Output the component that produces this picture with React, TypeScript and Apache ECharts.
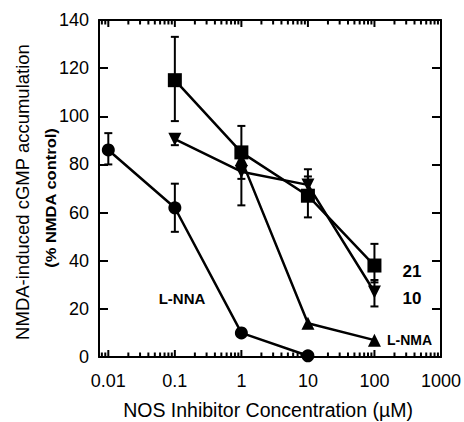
import React, { useEffect, useRef } from "react";
import * as echarts from "echarts";

// concentrations (µM)
const nnaX = [0.01, 0.1, 1, 10];
const nnaY = [86, 62, 10, 0.5];
const nnaErr: (number[] | null)[] = [[80, 93], [52, 72], null, null];

const c21X = [0.1, 1, 10, 100];
const c21Y = [115, 85, 67, 38];
const c21Err: (number[] | null)[] = [[98, 133], [74, 96], [58, 75], [31, 47]];

const c10X = [0.1, 1, 10, 100];
const c10Y = [90.5, 77, 71.5, 27];
const c10Err: (number[] | null)[] = [[88, 92], [63, 80], [68, 78], [21, 32]];

const nmaX = [1, 10, 100];
const nmaY = [82, 14, 7];

const xTickValues = [0.01, 0.1, 1, 10, 100, 1000];
const xTickLabels = ["0.01", "0.1", "1", "10", "100", "1000"];

const FONT = "Liberation Sans, Arial, Helvetica, sans-serif";
const L = Math.log10;
const X_MIN = -2.14;
const X_MAX = 3;

const majorVals = xTickValues.map((v) => L(v));
const minorVals: number[] = [];
for (let n = -3; n <= 2; n++) {
  for (let k = 2; k <= 9; k++) {
    const v = L(k * Math.pow(10, n));
    if (v > X_MIN && v < X_MAX) minorVals.push(v);
  }
}
const tickData = [
  ...majorVals.map((v) => [v, 1]),
  ...minorVals.map((v) => [v, 2]),
];

function pts(xs: number[], ys: number[]) {
  return xs.map((x, i) => [L(x), ys[i]]);
}
function errPts(xs: number[], errs: (number[] | null)[]) {
  const out: number[][] = [];
  xs.forEach((x, i) => {
    const e = errs[i];
    if (e) out.push([L(x), e[0], e[1]]);
  });
  return out;
}

const errData = [
  ...errPts(nnaX, nnaErr),
  ...errPts(c21X, c21Err),
  ...errPts(c10X, c10Err),
];

export default function App() {
  const ref = useRef<HTMLDivElement>(null);
  useEffect(() => {
    if (!ref.current) return;
    const chart = echarts.init(ref.current, null, { renderer: "svg" });
    const axisLine = { show: true, onZero: false, lineStyle: { color: "#000", width: 2 } };
    const lineSeries = (data: number[][], symbol: string, size: number, rotate = 0) => ({
      type: "line",
      data,
      symbol,
      symbolSize: size,
      symbolRotate: rotate,
      showAllSymbol: true,
      lineStyle: { color: "#000", width: 2.5 },
      itemStyle: { color: "#000" },
      z: 3,
    });
    chart.setOption({
      animation: false,
      grid: { left: 99, right: 22, top: 20, bottom: 65, containLabel: false },
      xAxis: [
        {
          type: "value",
          position: "bottom",
          min: X_MIN,
          max: X_MAX,
          splitLine: { show: false },
          axisLine,
          axisTick: { show: false },
          axisLabel: {
            show: true,
            customValues: majorVals,
            formatter: (v: number) => {
              const i = majorVals.findIndex((m) => Math.abs(m - v) < 1e-6);
              return i >= 0 ? xTickLabels[i] : "";
            },
            color: "#000",
            fontFamily: FONT,
            fontSize: 18,
            margin: 15,
          },
        },
        {
          type: "value",
          position: "top",
          min: X_MIN,
          max: X_MAX,
          splitLine: { show: false },
          axisLine,
          axisTick: { show: false },
          axisLabel: { show: false },
        },
      ],
      yAxis: [
        {
          type: "value",
          position: "left",
          min: 0,
          max: 140,
          interval: 20,
          splitLine: { show: false },
          axisLine,
          axisTick: { show: true, inside: true, length: 9, lineStyle: { color: "#000", width: 2 } },
          axisLabel: {
            color: "#000",
            fontFamily: FONT,
            fontSize: 18,
            margin: 10,
          },
        },
        {
          type: "value",
          position: "right",
          min: 0,
          max: 140,
          interval: 20,
          splitLine: { show: false },
          axisLine,
          axisTick: { show: true, inside: true, length: 9, lineStyle: { color: "#000", width: 2 } },
          axisLabel: { show: false },
        },
      ],
      series: [
        {
          type: "custom",
          data: tickData,
          z: 5,
          renderItem: (params: any, api: any) => {
            const x = api.value(0);
            const major = api.value(1) === 1;
            const len = major ? 7 : 4.5;
            const b = api.coord([x, 0]);
            const t = api.coord([x, 140]);
            const st = { stroke: "#000", lineWidth: 2 };
            return {
              type: "group",
              children: [
                { type: "line", shape: { x1: b[0], y1: b[1], x2: b[0], y2: b[1] - len }, style: st },
                { type: "line", shape: { x1: t[0], y1: t[1], x2: t[0], y2: t[1] + len }, style: st },
              ],
            };
          },
        },
        {
          type: "custom",
          data: errData,
          z: 2,
          renderItem: (params: any, api: any) => {
            const x = api.value(0);
            const lo = api.coord([x, api.value(1)]);
            const hi = api.coord([x, api.value(2)]);
            const w = 4;
            const st = { stroke: "#000", lineWidth: 2 };
            return {
              type: "group",
              children: [
                { type: "line", shape: { x1: lo[0], y1: lo[1], x2: hi[0], y2: hi[1] }, style: st },
                { type: "line", shape: { x1: lo[0] - w, y1: lo[1], x2: lo[0] + w, y2: lo[1] }, style: st },
                { type: "line", shape: { x1: hi[0] - w, y1: hi[1], x2: hi[0] + w, y2: hi[1] }, style: st },
              ],
            };
          },
        },
        lineSeries(pts(nmaX, nmaY), "triangle", 13),
        lineSeries(pts(c10X, c10Y), "triangle", 13, 180),
        lineSeries(pts(c21X, c21Y), "rect", 14),
        lineSeries(pts(nnaX, nnaY), "circle", 13),
      ],
      graphic: [
        {
          type: "text",
          x: 22,
          y: 192,
          rotation: Math.PI / 2,
          style: {
            text: "NMDA-induced cGMP accumulation",
            fontFamily: FONT,
            fontSize: 18.5,
            fill: "#000",
            align: "center",
            verticalAlign: "middle",
          },
        },
        {
          type: "text",
          x: 51,
          y: 198,
          rotation: Math.PI / 2,
          scaleX: 1.18,
          style: {
            text: "(% NMDA control)",
            fontFamily: FONT,
            fontSize: 14,
            fontWeight: "bold",
            fill: "#000",
            align: "center",
            verticalAlign: "middle",
          },
        },
        {
          type: "text",
          x: 268,
          y: 410,
          style: {
            text: "NOS Inhibitor Concentration (\u00b5M)",
            fontFamily: FONT,
            fontSize: 19.5,
            fill: "#000",
            align: "center",
            verticalAlign: "middle",
          },
        },
        {
          type: "text",
          x: 182,
          y: 298,
          style: { text: "L-NNA", fontFamily: FONT, fontSize: 15, fontWeight: "bold", fill: "#000", align: "center", verticalAlign: "middle" },
        },
        {
          type: "text",
          x: 412,
          y: 271,
          style: { text: "21", fontFamily: FONT, fontSize: 17, fontWeight: "bold", fill: "#000", align: "center", verticalAlign: "middle" },
        },
        {
          type: "text",
          x: 412,
          y: 298,
          style: { text: "10", fontFamily: FONT, fontSize: 17, fontWeight: "bold", fill: "#000", align: "center", verticalAlign: "middle" },
        },
        {
          type: "text",
          x: 387,
          y: 340,
          style: { text: "L-NMA", fontFamily: FONT, fontSize: 14, fontWeight: "bold", fill: "#000", align: "left", verticalAlign: "middle" },
        },
      ],
    });
    return () => chart.dispose();
  }, []);
  return <div ref={ref} style={{ width: 464, height: 422, position: "absolute", left: 0, top: 0 }} />;
}
